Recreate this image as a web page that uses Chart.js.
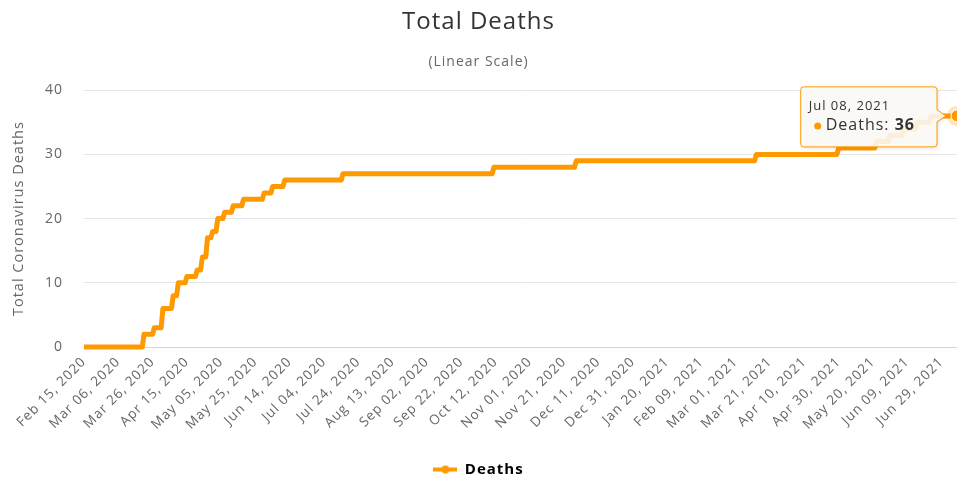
<!DOCTYPE html>
<html>
<head>
<meta charset="utf-8">
<title>Total Deaths</title>
<script src="https://cdn.jsdelivr.net/npm/chart.js@4.4.1/dist/chart.umd.min.js"></script>
<style>
    html, body { margin: 0; padding: 0; background: #fff; }
    #chart-wrap { width: 957px; height: 478px; }
</style>
</head>
<body>
<div id="chart-wrap"><canvas id="deaths-chart" width="957" height="478"></canvas></div>
<script>
const monthNames = ['Jan', 'Feb', 'Mar', 'Apr', 'May', 'Jun', 'Jul', 'Aug', 'Sep', 'Oct', 'Nov', 'Dec'];
const firstDay = '2020-02-15';
const dayCount = 510;          // Feb 15, 2020 .. Jul 08, 2021
const tickEvery = 20;          // a date label every 20 days
const yTicks = [0, 10, 20, 30, 40];

// total deaths: date the total changed -> new total
const deathSteps = [
    ['Feb 15, 2020', 0],
    ['Mar 21, 2020', 2],
    ['Mar 27, 2020', 3],
    ['Apr 01, 2020', 6],
    ['Apr 07, 2020', 8],
    ['Apr 10, 2020', 10],
    ['Apr 15, 2020', 11],
    ['Apr 21, 2020', 12],
    ['Apr 24, 2020', 14],
    ['Apr 27, 2020', 17],
    ['Apr 30, 2020', 18],
    ['May 03, 2020', 20],
    ['May 07, 2020', 21],
    ['May 12, 2020', 22],
    ['May 18, 2020', 23],
    ['May 30, 2020', 24],
    ['Jun 04, 2020', 25],
    ['Jun 11, 2020', 26],
    ['Jul 15, 2020', 27],
    ['Oct 11, 2020', 28],
    ['Nov 28, 2020', 29],
    ['Mar 13, 2021', 30],
    ['Apr 30, 2021', 31],
    ['May 22, 2021', 32],
    ['May 30, 2021', 33],
    ['Jun 07, 2021', 34],
    ['Jun 15, 2021', 35],
    ['Jun 23, 2021', 36]
];

function formatDay(d) {
    const day = String(d.getUTCDate()).padStart(2, '0');
    return monthNames[d.getUTCMonth()] + ' ' + day + ', ' + d.getUTCFullYear();
}

const dateLabels = [];
const start = new Date(firstDay + 'T00:00:00Z');
for (let i = 0; i < dayCount; i++) {
    dateLabels.push(formatDay(new Date(start.getTime() + i * 86400000)));
}

const deathValues = [];
let stepPos = 0;
let current = 0;
dateLabels.forEach((label) => {
    if (stepPos < deathSteps.length && deathSteps[stepPos][0] === label) {
        current = deathSteps[stepPos][1];
        stepPos++;
    }
    deathValues.push(current);
});
const lastIndex = deathValues.length - 1;

const orange = '#ff9900';
const fontFamily = '"Open Sans", "DejaVu Sans", sans-serif';
const spacing = '1px';   // the original text is drawn a bit wider
Chart.defaults.font.family = fontFamily;

// legend symbol: a short line with a dot on it
const legendMark = document.createElement('canvas');
legendMark.width = 24;
legendMark.height = 12;
const lm = legendMark.getContext('2d');
lm.strokeStyle = orange;
lm.lineWidth = 4;
lm.beginPath();
lm.moveTo(0, 6);
lm.lineTo(24, 6);
lm.stroke();
lm.fillStyle = orange;
lm.beginPath();
lm.arc(12, 6, 4, 0, Math.PI * 2);
lm.fill();

const letterSpacing = {
    id: 'letterSpacing',
    beforeLayout(chart) { chart.ctx.letterSpacing = spacing; },
    beforeDraw(chart) { chart.ctx.letterSpacing = spacing; }
};

// hovered last point with its box
const endTooltip = {
    id: 'endTooltip',
    afterDatasetsDraw(chart) {
        const meta = chart.getDatasetMeta(0);
        const pt = meta.data[lastIndex];
        const ctx = chart.ctx;
        const header = dateLabels[lastIndex];
        const name = 'Deaths: ';
        const value = String(deathValues[lastIndex]);

        ctx.save();
        // halo and marker
        ctx.fillStyle = 'rgba(255,153,0,0.25)';
        ctx.beginPath();
        ctx.arc(pt.x, pt.y, 10, 0, Math.PI * 2);
        ctx.fill();
        ctx.fillStyle = orange;
        ctx.strokeStyle = '#fff';
        ctx.lineWidth = 1;
        ctx.beginPath();
        ctx.arc(pt.x, pt.y, 6, 0, Math.PI * 2);
        ctx.fill();
        ctx.stroke();

        ctx.letterSpacing = spacing;
        ctx.font = '13px ' + fontFamily;
        const headerW = ctx.measureText(header).width;
        ctx.font = '16px ' + fontFamily;
        const nameW = ctx.measureText(name).width;
        ctx.font = 'bold 16px ' + fontFamily;
        const valueW = ctx.measureText(value).width;

        const boxW = Math.max(headerW + 8, 25 + nameW + valueW) + 22;
        const boxH = 60;
        const right = pt.x - 20;
        const left = right - boxW;
        const top = pt.y - 29;

        ctx.shadowColor = 'rgba(0,0,0,0.15)';
        ctx.shadowBlur = 4;
        ctx.shadowOffsetX = 1;
        ctx.shadowOffsetY = 1;
        ctx.beginPath();
        ctx.moveTo(left + 3, top);
        ctx.lineTo(right - 3, top);
        ctx.quadraticCurveTo(right, top, right, top + 3);
        ctx.lineTo(right, pt.y - 6);
        ctx.lineTo(pt.x - 11, pt.y);
        ctx.lineTo(right, pt.y + 6);
        ctx.lineTo(right, top + boxH - 3);
        ctx.quadraticCurveTo(right, top + boxH, right - 3, top + boxH);
        ctx.lineTo(left + 3, top + boxH);
        ctx.quadraticCurveTo(left, top + boxH, left, top + boxH - 3);
        ctx.lineTo(left, top + 3);
        ctx.quadraticCurveTo(left, top, left + 3, top);
        ctx.closePath();
        ctx.fillStyle = 'rgba(255,253,248,0.88)';
        ctx.fill();
        ctx.shadowColor = 'transparent';
        ctx.strokeStyle = orange;
        ctx.lineWidth = 1;
        ctx.stroke();

        ctx.textBaseline = 'middle';
        ctx.fillStyle = '#333';
        ctx.font = '13px ' + fontFamily;
        ctx.fillText(header, left + 8, top + 19);

        ctx.fillStyle = orange;
        ctx.beginPath();
        ctx.arc(left + 17, top + 39, 3.5, 0, Math.PI * 2);
        ctx.fill();

        ctx.fillStyle = '#333';
        ctx.font = '16px ' + fontFamily;
        ctx.fillText(name, left + 25, top + 39);
        ctx.font = 'bold 16px ' + fontFamily;
        ctx.fillText(value, left + 25 + nameW, top + 39);
        ctx.restore();
    }
};

const canvas = document.getElementById('deaths-chart');
new Chart(canvas.getContext('2d'), {
    type: 'line',
    data: {
        labels: dateLabels,
        datasets: [{
            label: 'Deaths',
            data: deathValues,
            borderColor: orange,
            backgroundColor: orange,
            borderWidth: 5,
            borderJoinStyle: 'round',
            tension: 0,
            pointRadius: 0,
            clip: false
        }]
    },
    options: {
        responsive: false,
        animation: false,
        layout: { padding: { left: 0, right: 0, top: 0, bottom: -9 } },
        plugins: {
            title: {
                display: true,
                text: 'Total Deaths',
                color: '#333',
                font: { size: 24, weight: 'normal' },
                padding: { top: 8, bottom: 17 }
            },
            subtitle: {
                display: true,
                text: '(Linear Scale)',
                color: '#666',
                font: { size: 14 },
                padding: { top: 0, bottom: 19.6 }
            },
            legend: {
                position: 'bottom',
                labels: {
                    usePointStyle: true,
                    pointStyleWidth: 24,
                    padding: 4,
                    color: '#333',
                    font: { size: 15, weight: 'bold' },
                    generateLabels: (chart) => [{
                        text: 'Deaths',
                        pointStyle: legendMark,
                        fillStyle: orange,
                        strokeStyle: orange,
                        lineWidth: 0,
                        datasetIndex: 0
                    }]
                }
            },
            tooltip: { enabled: false }
        },
        scales: {
            x: {
                grid: { display: false, drawTicks: false },
                border: { color: '#ccd6eb' },
                ticks: {
                    autoSkip: false,
                    minRotation: 45,
                    maxRotation: 45,
                    padding: 7,
                    color: '#666',
                    font: { size: 13.5 },
                    callback: (v, i) => i % tickEvery === 0 ? dateLabels[i] : ''
                },
                afterFit: (scale) => {
                    scale.height = 111;
                    scale.paddingRight = 0;
                }
            },
            y: {
                min: yTicks[0],
                max: yTicks[yTicks.length - 1],
                afterBuildTicks: (scale) => { scale.ticks = yTicks.map(v => ({ value: v })); },
                ticks: { padding: 21, color: '#666', font: { size: 14 } },
                grid: { color: '#e6e6e6', drawTicks: false },
                border: { display: false },
                title: {
                    display: true,
                    text: 'Total Coronavirus Deaths',
                    color: '#666',
                    font: { size: 14.5 },
                    padding: { top: 10, bottom: 0 }
                },
                afterFit: (scale) => { scale.width = 84; }
            }
        }
    },
    plugins: [letterSpacing, endTooltip]
});
</script>
</body>
</html>
